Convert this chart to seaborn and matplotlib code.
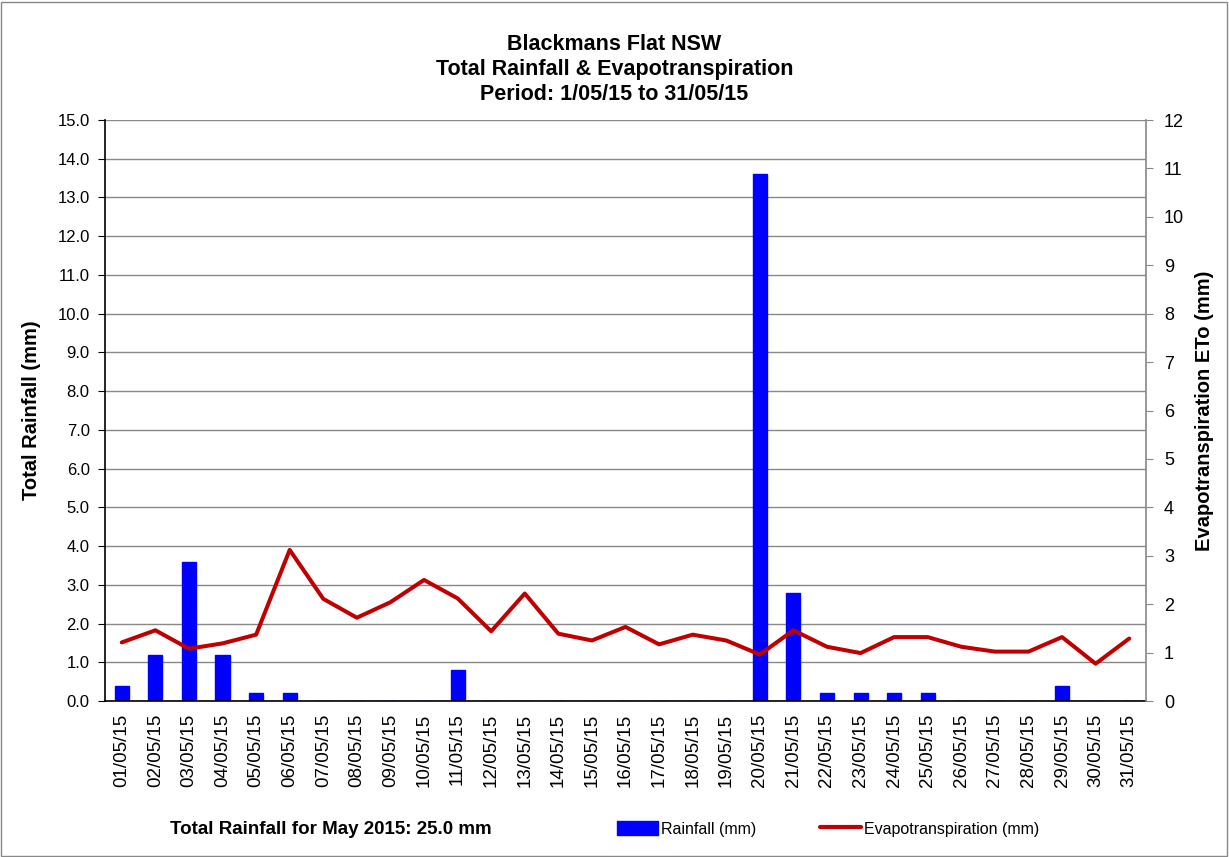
import numpy as np
import pandas as pd
import matplotlib
matplotlib.use("Agg")
import matplotlib.pyplot as plt
import seaborn as sns
from matplotlib.patches import Patch, Rectangle
from matplotlib.lines import Line2D

# Daily data for May 2015
dates = ["%02d/05/15" % d for d in range(1, 32)]
rainfall = [0.4, 1.2, 3.6, 1.2, 0.2, 0.2, 0.0, 0.0, 0.0, 0.0,
            0.8, 0.0, 0.0, 0.0, 0.0, 0.0, 0.0, 0.0, 0.0, 13.6,
            2.8, 0.2, 0.2, 0.2, 0.2, 0.0, 0.0, 0.0, 0.4, 0.0, 0.0]
eto = [1.21, 1.46, 1.08, 1.19, 1.37, 3.12, 2.11, 1.72, 2.04, 2.50,
       2.12, 1.44, 2.22, 1.39, 1.25, 1.53, 1.17, 1.37, 1.25, 0.96,
       1.46, 1.12, 0.99, 1.32, 1.32, 1.12, 1.02, 1.02, 1.32, 0.77, 1.29]

df = pd.DataFrame({"date": dates, "rain": rainfall, "eto": eto,
                   "pos": np.arange(len(dates))})

sns.set_style("white")
plt.rcParams["font.family"] = ["Liberation Sans", "DejaVu Sans"]
plt.rcParams["text.color"] = "black"
plt.rcParams["axes.labelcolor"] = "black"
plt.rcParams["xtick.color"] = "black"
plt.rcParams["ytick.color"] = "black"

fig = plt.figure(figsize=(12.29, 8.57), dpi=100)
ax = fig.add_axes([105 / 1229, 1 - 701 / 857, 1041 / 1229, 581 / 857])

# Rainfall bars
sns.barplot(x="pos", y="rain", data=df, color="#0000FF", saturation=1,
            width=0.42, ax=ax, native_scale=True)
for p in ax.patches:
    p.set_edgecolor("#0000FF")

ax.set_xlim(-0.5, len(dates) - 0.5)
ax.set_ylim(0, 15)
ax.set_yticks(np.arange(0, 15.1, 1.0))
ax.set_yticklabels(["%.1f" % v for v in np.arange(0, 15.1, 1.0)], fontsize=12)
ax.yaxis.grid(True, color="#888888", linewidth=1)
ax.set_axisbelow(True)
ax.set_xticks(df["pos"])
ax.set_xticklabels(dates, rotation=90, fontsize=13.5)
ax.set_xticks(np.arange(-0.5, len(dates), 1.0), minor=True)
ax.tick_params(axis="x", which="major", length=0, pad=9)
ax.tick_params(axis="x", which="minor", length=6, color="#888888", direction="out")
ax.tick_params(axis="y", which="major", length=5, color="black", direction="out",
               left=True, pad=6)
ax.set_xlabel("")
ax.set_ylabel("Total Rainfall (mm)", fontsize=14.5, fontweight="bold", labelpad=12)
for s in ["left", "bottom"]:
    ax.spines[s].set_color("black")
    ax.spines[s].set_linewidth(1.2)
ax.spines["top"].set_visible(False)
ax.spines["right"].set_visible(False)

# Evapotranspiration line
ax2 = ax.twinx()
sns.lineplot(x="pos", y="eto", data=df, color="#C00000", linewidth=2.9, ax=ax2)
ax2.set_ylim(0, 12)
ax2.set_yticks(range(0, 13))
ax2.set_yticklabels([str(v) for v in range(0, 13)], fontsize=13)
ax2.tick_params(axis="y", length=5, color="#888888", direction="out", right=True, pad=8)
ax2.set_ylabel("Evapotranspiration ETo (mm)", fontsize=14.5, fontweight="bold",
               labelpad=8)
ax2.set_xlabel("")
ax2.set_xlim(-0.5, len(dates) - 0.5)
for s in ["left", "top", "bottom"]:
    ax2.spines[s].set_visible(False)
ax2.spines["right"].set_color("#888888")
ax2.spines["right"].set_linewidth(1.2)

fig.text(0.5, 1 - 44 / 857, "Blackmans Flat NSW", ha="center", va="center",
         fontsize=15.5, fontweight="bold")
fig.text(0.5, 1 - 69 / 857, "Total Rainfall & Evapotranspiration", ha="center",
         va="center", fontsize=15.5, fontweight="bold")
fig.text(0.5, 1 - 94 / 857, "Period: 1/05/15 to 31/05/15", ha="center",
         va="center", fontsize=15.5, fontweight="bold")

fig.text(170 / 1229, 1 - 830 / 857, "Total Rainfall for May 2015: 25.0 mm",
         ha="left", va="center", fontsize=13.5, fontweight="bold")

handles = [Patch(facecolor="#0000FF", edgecolor="#0000FF"),
           Line2D([0], [0], color="#C00000", linewidth=3)]
fig.legend(handles, ["Rainfall (mm)", "Evapotranspiration (mm)"],
           loc="center", bbox_to_anchor=(828 / 1229, 1 - 829 / 857), ncol=2,
           frameon=False, handlelength=2.6, handleheight=1.0, handletextpad=0.15,
           columnspacing=4.0, prop={"size": 11.5})

fig.patches.append(Rectangle((0.001, 0.001), 0.997, 0.997, transform=fig.transFigure,
                             fill=False, edgecolor="#888888", linewidth=1))

fig.savefig("out.png", dpi=100)
